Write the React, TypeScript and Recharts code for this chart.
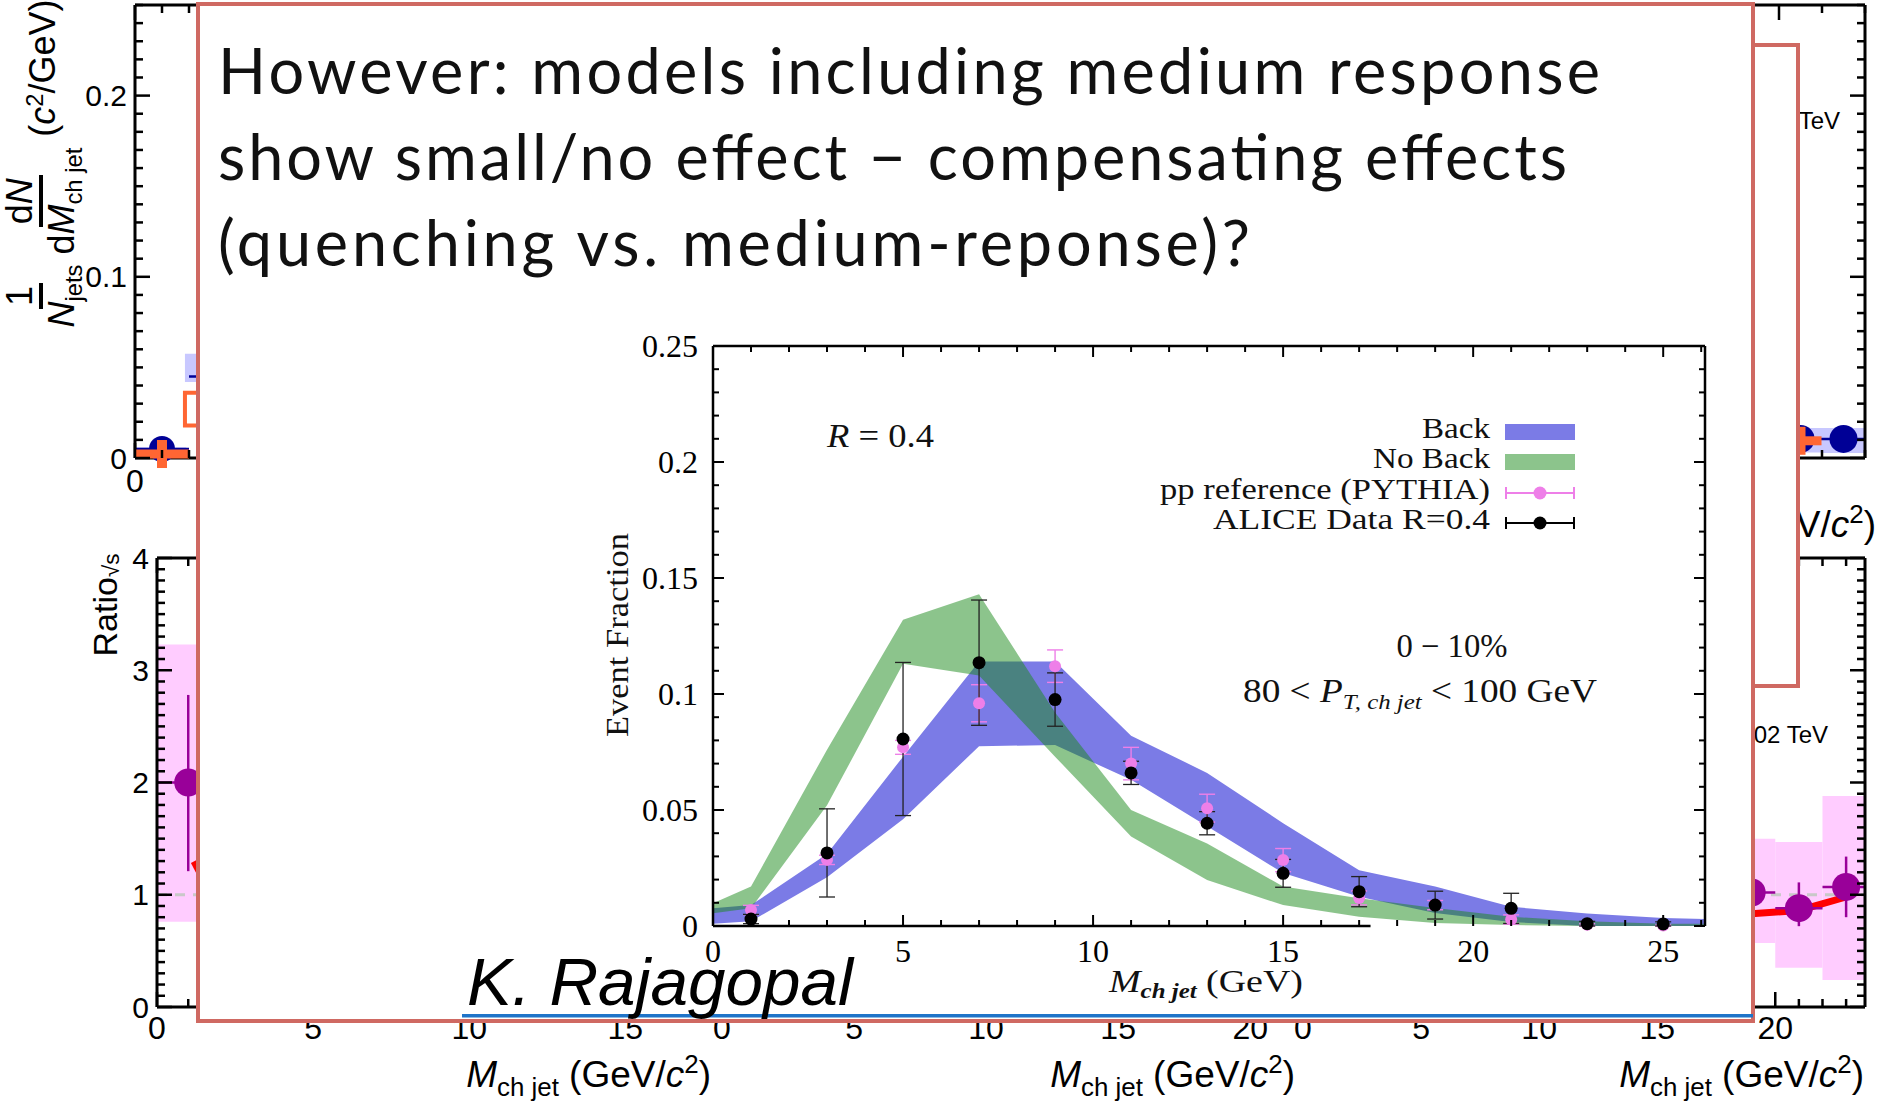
import React from 'react';
import {
  ComposedChart,
  XAxis,
  YAxis,
  Area,
  Scatter,
  Line,
  ErrorBar,
  ReferenceArea,
  ReferenceLine,
  Legend,
} from 'recharts';

/* ---------- inset: jet mass, 0-10 %, 80 < pT,ch jet < 100 GeV ---------- */
const bandX = [0, 1, 3, 5, 7, 9, 11, 13, 15, 17, 19, 21, 23, 25, 26.1];
const backLow = [0.001, 0.002, 0.021, 0.046, 0.0775, 0.078, 0.063, 0.043, 0.0228, 0.0126, 0.0056, 0.0017, 0, 0, 0];
const backHigh = [0.0076, 0.009, 0.031, 0.073, 0.114, 0.114, 0.082, 0.066, 0.0443, 0.024, 0.017, 0.0083, 0.0054, 0.0034, 0.003];
const noBackLow = [0.0055, 0.0076, 0.052, 0.113, 0.108, 0.073, 0.0386, 0.0198, 0.009, 0.004, 0.0013, 0.0004, 0, 0, 0];
const noBackHigh = [0.0098, 0.017, 0.076, 0.132, 0.143, 0.092, 0.05, 0.0356, 0.017, 0.012, 0.0078, 0.004, 0.002, 0.001, 0.001];

const massBins = [1, 3, 5, 7, 9, 11, 13, 15, 17, 19, 21, 23, 25];
const aliceY = [0.003, 0.0315, 0.0806, 0.1135, 0.0976, 0.066, 0.0443, 0.0227, 0.0148, 0.009, 0.0076, 0.001, 0.0009];
const aliceErr = [0.002, 0.019, 0.033, 0.027, 0.0115, 0.005, 0.005, 0.006, 0.0065, 0.006, 0.0065, 0.001, 0.0009];
const pythiaY = [0.0069, 0.0285, 0.077, 0.096, 0.112, 0.07, 0.0508, 0.0284, 0.0121, 0.009, 0.0028, 0.0005, 0.0002];
const pythiaErr = [0.002, 0.002, 0.003, 0.008, 0.007, 0.007, 0.006, 0.005, 0.003, 0.002, 0.002, 0.0005, 0.0002];

const insetXLabels = [0, 5, 10, 15, 20, 25];
const insetYLabels = [0, 0.05, 0.1, 0.15, 0.2, 0.25];
const legendNames = ['Back', 'No Back', 'pp reference (PYTHIA)', 'ALICE Data R=0.4'];

/* ---------- ALICE figure behind the callout (only its edges show) ---------- */
const spectrumYLabels = [0, 0.1, 0.2];
const ratioYLabels = [0, 1, 2, 3, 4];
const massXLabels = [0, 5, 10, 15, 20];

const tlBlue = [{ x: 1, y: 0.005, ex: 1 }, { x: 3, y: 0.045, ex: 1 }];
const tlOrange = [{ x: 1, y: 0.0022 }];
const tlBlueSys = [{ x1: 0, x2: 1.9, y1: 0.003, y2: 0.006 }, { x1: 1.85, x2: 4.15, y1: 0.042, y2: 0.0575 }];
const tlOrangeSys = [{ x1: 1.85, x2: 4.15, y1: 0.018, y2: 0.036 }];

const trBlue = [{ x: 21, y: 0.0105, ex: 1 }, { x: 23, y: 0.0105, ex: 1 }];
const trOrange = [{ x: 21, y: 0.0095 }];
const trBlueSys = [{ x1: 20, x2: 22, y1: 0.003, y2: 0.0166 }, { x1: 22, x2: 24, y1: 0.0028, y2: 0.0166 }];

const blRatio = [{ x: 1, y: 2.0, ey: [0.79, 0.78], ex: 1 }];
const blSys = [{ x1: 0, x2: 2, y1: 0.76, y2: 3.23 }];
const blModel = [{ x: 1.2, y: 1.3 }, { x: 1.5, y: 1.14 }];

const brRatio = [
  { x: 19, y: 1.02, ey: 0.2, ex: 1 },
  { x: 21, y: 0.88, ey: [0.16, 0.23], ex: 1 },
  { x: 23, y: 1.07, ey: 0.27, ex: [1, 0.8] },
];
const brSys = [
  { x1: 18, x2: 20, y1: 0.57, y2: 1.5 },
  { x1: 20, x2: 22, y1: 0.35, y2: 1.47 },
  { x1: 22, x2: 24, y1: 0.24, y2: 1.88 },
];
const brModel = [{ x: 19, y: 0.83 }, { x: 21, y: 0.86 }, { x: 23, y: 0.98 }];

/* ---------- helpers ---------- */
const SANS = "'Liberation Sans', Arial, sans-serif";
const SERIF = "'Liberation Serif', 'DejaVu Serif', serif";
const NAVY = '#000096';
const ORANGE = '#ff6633';
const PURPLE = '#990099';
const RED_BOX = '#cf6962';

const steps = (from: number, to: number, step: number) => {
  const n = Math.floor((to - from) / step + 1e-9);
  return Array.from({ length: n + 1 }, (_, i) => Math.round((from + i * step) * 1e6) / 1e6);
};
const within = (v: number, list: number[]) => list.some((m) => Math.abs(m - v) < 1e-6);

type Side = 'bottom' | 'top' | 'left' | 'right';
type LabelOpt = { family: string; size: number; gap: number; values: number[] };

// inward tick marks; majors are longer, labels only where listed
const axisTick =
  (side: Side, majors: number[], majorLen: number, minorLen: number, sw: number, label?: LabelOpt) =>
  (props: any) => {
    const { x, y, payload } = props;
    const v = payload.value as number;
    const len = within(v, majors) ? majorLen : minorLen;
    const dx = side === 'left' ? len : side === 'right' ? -len : 0;
    const dy = side === 'bottom' ? -len : side === 'top' ? len : 0;
    let text = null;
    if (label && within(v, label.values)) {
      text =
        side === 'bottom' ? (
          <text x={x} y={y + label.gap} textAnchor="middle" dominantBaseline="central" fontFamily={label.family} fontSize={label.size} fill="#000">
            {String(v)}
          </text>
        ) : (
          <text x={x - label.gap} y={y} textAnchor="end" dominantBaseline="central" fontFamily={label.family} fontSize={label.size} fill="#000">
            {String(v)}
          </text>
        );
    }
    return (
      <g>
        <line x1={x} y1={y} x2={x + dx} y2={y + dy} stroke="#000" strokeWidth={sw} />
        {text}
      </g>
    );
  };

const dot = (r: number, color: string) => (p: any) => <circle cx={p.cx} cy={p.cy} r={r} fill={color} />;
const cross = (half: number, color: string) => (p: any) => (
  <g>
    <rect x={p.cx - half} y={p.cy - 4.5} width={half * 2} height={9} fill={color} />
    <rect x={p.cx - 5} y={p.cy - 14} width={10} height={28} fill={color} />
  </g>
);

type Box = { left: number; top: number; width: number; height: number };
const PAD = 70;

// axes are 1px bands so recharts draws them; margins make up the difference
function Panel(props: {
  box: Box;
  xDomain: [number, number];
  yDomain: [number, number];
  xStep: number;
  yStep: number;
  yLabels: number[];
  xShown: number[];
  yShown: number[];
  xGap: number;
  children?: React.ReactNode;
}) {
  const { box, xDomain, yDomain, xStep, yStep, yLabels, xShown, yShown, xGap, children } = props;
  const xTicks = steps(xDomain[0], xDomain[1], xStep);
  const yTicks = steps(yDomain[0], yDomain[1], yStep);
  const line = { stroke: '#000', strokeWidth: 3 };
  const bare = !children;
  const m = PAD - 1;
  return (
    <div style={{ position: 'absolute', left: box.left - PAD, top: box.top - PAD }}>
      <ComposedChart width={box.width + 2 * PAD} height={box.height + 2 * PAD} margin={{ top: m, right: m, bottom: m, left: m }}>
        <XAxis dataKey="x" type="number" domain={xDomain} ticks={xTicks} interval={0} height={1} tickSize={0} tickMargin={0}
          axisLine={line} tickLine={false} allowDataOverflow={bare}
          tick={axisTick('bottom', massXLabels, 15, 8, 2.5, { family: SANS, size: 32, gap: xGap, values: xShown })} />
        <XAxis xAxisId="top" orientation="top" dataKey="x" type="number" domain={xDomain} ticks={xTicks} interval={0} height={1}
          tickSize={0} tickMargin={0} axisLine={line} tickLine={false} allowDataOverflow tick={axisTick('top', massXLabels, 15, 8, 2.5)} />
        <YAxis type="number" domain={yDomain} ticks={yTicks} interval={0} width={1} tickSize={0} tickMargin={0} axisLine={line}
          tickLine={false} allowDataOverflow={bare}
          tick={axisTick('left', yLabels, 15, 8, 2.5, { family: SANS, size: 30, gap: 8, values: yShown })} />
        <YAxis yAxisId="right" orientation="right" type="number" domain={yDomain} ticks={yTicks} interval={0} width={1} tickSize={0}
          tickMargin={0} axisLine={line} tickLine={false} allowDataOverflow tick={axisTick('right', yLabels, 15, 8, 2.5)} />
        {children}
      </ComposedChart>
    </div>
  );
}

const Sub = ({ children }: { children: React.ReactNode }) => (
  <span style={{ fontSize: '0.66em', position: 'relative', top: '0.32em' }}>{children}</span>
);
const Sup = ({ children }: { children: React.ReactNode }) => (
  <span style={{ fontSize: '0.66em', position: 'relative', top: '-0.5em' }}>{children}</span>
);
const Frac = ({ n, d }: { n: React.ReactNode; d: React.ReactNode }) => (
  <span style={{ display: 'inline-flex', flexDirection: 'column', alignItems: 'center', verticalAlign: 'middle', margin: '0 5px' }}>
    <span style={{ lineHeight: '34px', padding: '0 3px 2px', borderBottom: '4px solid #000' }}>{n}</span>
    <span style={{ lineHeight: '34px', paddingTop: 2 }}>{d}</span>
  </span>
);

function Rotated({ cx, cy, w, h, size, children }: { cx: number; cy: number; w: number; h: number; size: number; children: React.ReactNode }) {
  return (
    <div
      style={{
        position: 'absolute', left: cx - w / 2, top: cy - h / 2, width: w, height: h,
        display: 'flex', alignItems: 'center', justifyContent: 'center', transform: 'rotate(-90deg)',
        fontFamily: SANS, fontSize: size, color: '#000', whiteSpace: 'nowrap',
      }}
    >
      {children}
    </div>
  );
}

const MassTitle = ({ x, y, size }: { x: number; y: number; size: number }) => (
  <text x={x} y={y} textAnchor="end" fontFamily={SANS} fontSize={size} fill="#000">
    <tspan fontStyle="italic">M</tspan>
    <tspan fontSize={size * 0.7} dy={9}>ch jet</tspan>
    <tspan dy={-9}> (GeV/</tspan>
    <tspan fontStyle="italic">c</tspan>
    <tspan fontSize={size * 0.7} dy={-14}>2</tspan>
    <tspan dy={14}>)</tspan>
  </text>
);

function InsetLegend() {
  const base = [28, 58, 89, 119];
  const widths = [68, 117, 330, 277];
  return (
    <svg width={440} height={135} style={{ overflow: 'visible' }}>
      {legendNames.map((name, i) => (
        <text key={name} x={340} y={base[i]} textAnchor="end" fontFamily={SERIF} fontSize={30} fill="#111" textLength={widths[i]} lengthAdjust="spacingAndGlyphs">
          {name}
        </text>
      ))}
      <rect x={355} y={base[0] - 14} width={70} height={16} fill="#7b7be6" />
      <rect x={355} y={base[1] - 14} width={70} height={16} fill="rgb(25,137,25)" fillOpacity={0.5} />
      {[2, 3].map((i) => {
        const c = base[i] - 6;
        const col = i === 2 ? '#ee7fe8' : '#000';
        return (
          <g key={i} stroke={col} strokeWidth={2}>
            <line x1={355} y1={c} x2={425} y2={c} />
            <line x1={356} y1={c - 6} x2={356} y2={c + 6} />
            <line x1={424} y1={c - 6} x2={424} y2={c + 6} />
            <circle cx={390} cy={c} r={6.5} fill={col} stroke="none" />
          </g>
        );
      })}
    </svg>
  );
}

const bandRows = bandX.map((x, i) => ({ x, back: [backLow[i], backHigh[i]], noBack: [noBackLow[i], noBackHigh[i]] }));
const aliceRows = massBins.map((x, i) => ({ x, y: aliceY[i], err: aliceErr[i] }));
const pythiaRows = massBins.map((x, i) => ({ x, y: pythiaY[i], err: pythiaErr[i] }));

// plot frame of the inset sits at x 713..1705, y 346..926 on the page
const INSET = { left: 593, top: 296, width: 1152, height: 730, margin: { top: 49, right: 39, bottom: 99, left: 119 } };

function InsetChart() {
  const frame = { stroke: '#000', strokeWidth: 2.5 };
  const xTicks = steps(0, 26.1, 1);
  const yTicks = steps(0, 0.25, 0.01);
  return (
    <div style={{ position: 'absolute', left: INSET.left, top: INSET.top }}>
      <ComposedChart width={INSET.width} height={INSET.height} data={bandRows} margin={INSET.margin}>
        <XAxis dataKey="x" type="number" domain={[0, 26.1]} ticks={xTicks} interval={0} height={1} tickSize={0} tickMargin={0}
          axisLine={false} tickLine={false}
          tick={axisTick('bottom', insetXLabels, 11, 6, 2, { family: SERIF, size: 32, gap: 25, values: insetXLabels })} />
        <XAxis xAxisId="top" orientation="top" dataKey="x" type="number" domain={[0, 26.1]} ticks={xTicks} interval={0} height={1}
          tickSize={0} tickMargin={0} axisLine={frame} tickLine={false} allowDataOverflow tick={axisTick('top', insetXLabels, 11, 6, 2)} />
        <YAxis type="number" domain={[0, 0.25]} ticks={yTicks} interval={0} width={1} tickSize={0} tickMargin={0} axisLine={frame}
          tickLine={false} tick={axisTick('left', insetYLabels, 11, 6, 2, { family: SERIF, size: 32, gap: 15, values: insetYLabels })} />
        <YAxis yAxisId="right" orientation="right" type="number" domain={[0, 0.25]} ticks={yTicks} interval={0} width={1} tickSize={0}
          tickMargin={0} axisLine={frame} tickLine={false} allowDataOverflow tick={axisTick('right', insetYLabels, 11, 6, 2)} />
        <Area type="linear" dataKey="back" name="Back" fill="#7b7be6" fillOpacity={1} stroke="none" dot={false} activeDot={false} isAnimationActive={false} />
        <Area type="linear" dataKey="noBack" name="No Back" fill="rgb(25,137,25)" fillOpacity={0.5} stroke="none" dot={false} activeDot={false} isAnimationActive={false} />
        <ReferenceLine segment={[{ x: 0, y: 0 }, { x: 17.3, y: 0 }]} stroke="#000" strokeWidth={2.5} />
        <Scatter name="pp reference (PYTHIA)" data={pythiaRows} dataKey="y" fill="#ee7fe8" shape={dot(6, '#ee7fe8')} isAnimationActive={false}>
          <ErrorBar dataKey="err" direction="y" width={8} stroke="#ee7fe8" strokeWidth={1.4} />
        </Scatter>
        <Scatter name="ALICE Data R=0.4" data={aliceRows} dataKey="y" fill="#000" shape={dot(6.5, '#000')} isAnimationActive={false}>
          <ErrorBar dataKey="err" direction="y" width={8} stroke="#222" strokeWidth={1.3} />
        </Scatter>
        <Legend layout="vertical" align="center" verticalAlign="middle" content={() => <InsetLegend />}
          wrapperStyle={{ left: 557, top: 114, width: 440, height: 135 }} />
      </ComposedChart>
    </div>
  );
}

export default function App() {
  return (
    <div style={{ position: 'absolute', left: 0, top: 0, width: 1880, height: 1101, background: '#fff', overflow: 'hidden' }}>
      {/* spectra, upper row */}
      <Panel box={{ left: 135, top: 5, width: 540, height: 453 }} xDomain={[0, 20]} yDomain={[0, 0.25]} xStep={1} yStep={0.01}
        yLabels={spectrumYLabels} xShown={[0]} yShown={spectrumYLabels} xGap={23}>
        {tlBlueSys.map((b, i) => (
          <ReferenceArea key={i} x1={b.x1} x2={b.x2} y1={b.y1} y2={b.y2} fill="#c8c8ff" fillOpacity={1} stroke="none" ifOverflow="hidden" />
        ))}
        {tlOrangeSys.map((b, i) => (
          <ReferenceArea key={'o' + i} x1={b.x1} x2={b.x2} y1={b.y1} y2={b.y2} fill="none" stroke={ORANGE} strokeWidth={4} ifOverflow="hidden" />
        ))}
        <Scatter data={tlBlue} dataKey="y" fill={NAVY} shape={dot(13, NAVY)} isAnimationActive={false}>
          <ErrorBar dataKey="ex" direction="x" width={0} stroke={NAVY} strokeWidth={2.5} />
        </Scatter>
        <Scatter data={tlOrange} dataKey="y" fill={ORANGE} shape={cross(27, ORANGE)} isAnimationActive={false} />
      </Panel>
      <Panel box={{ left: 1349, top: 5, width: 516, height: 453 }} xDomain={[0, 24]} yDomain={[0, 0.25]} xStep={2} yStep={0.01}
        yLabels={spectrumYLabels} xShown={[]} yShown={[]} xGap={23}>
        {trBlueSys.map((b, i) => (
          <ReferenceArea key={i} x1={b.x1} x2={b.x2} y1={b.y1} y2={b.y2} fill="#c8c8ff" fillOpacity={1} stroke="none" ifOverflow="hidden" />
        ))}
        <Scatter data={trBlue} dataKey="y" fill={NAVY} shape={dot(14, NAVY)} isAnimationActive={false}>
          <ErrorBar dataKey="ex" direction="x" width={0} stroke={NAVY} strokeWidth={2.5} />
        </Scatter>
        <Scatter data={trOrange} dataKey="y" fill={ORANGE} shape={cross(21, ORANGE)} isAnimationActive={false} />
      </Panel>

      {/* ratios, lower row */}
      <Panel box={{ left: 157, top: 558, width: 562, height: 449 }} xDomain={[0, 18]} yDomain={[0, 4]} xStep={1} yStep={0.1}
        yLabels={ratioYLabels} xShown={massXLabels} yShown={ratioYLabels} xGap={21}>
        {blSys.map((b, i) => (
          <ReferenceArea key={i} x1={b.x1} x2={b.x2} y1={b.y1} y2={b.y2} fill="#ffccff" fillOpacity={1} stroke="none" ifOverflow="hidden" />
        ))}
        <ReferenceLine y={1} stroke="#c8c8c8" strokeWidth={3} strokeDasharray="10 8" />
        <Line data={blModel} dataKey="y" type="linear" stroke="#ff0000" strokeWidth={8} dot={false} activeDot={false} isAnimationActive={false} />
        <Scatter data={blRatio} dataKey="y" fill={PURPLE} shape={dot(14, PURPLE)} isAnimationActive={false}>
          <ErrorBar dataKey="ey" direction="y" width={0} stroke={PURPLE} strokeWidth={2.5} />
          <ErrorBar dataKey="ex" direction="x" width={0} stroke={PURPLE} strokeWidth={2.5} />
        </Scatter>
      </Panel>
      <Panel box={{ left: 722, top: 558, width: 581, height: 449 }} xDomain={[0, 22]} yDomain={[0, 4]} xStep={1} yStep={0.1}
        yLabels={ratioYLabels} xShown={massXLabels} yShown={[]} xGap={21} />
      <Panel box={{ left: 1303, top: 558, width: 562, height: 449 }} xDomain={[0, 23.8]} yDomain={[0, 4]} xStep={1} yStep={0.1}
        yLabels={ratioYLabels} xShown={massXLabels} yShown={[]} xGap={21}>
        {brSys.map((b, i) => (
          <ReferenceArea key={i} x1={b.x1} x2={b.x2} y1={b.y1} y2={b.y2} fill="#ffccff" fillOpacity={1} stroke="none" ifOverflow="hidden" />
        ))}
        <ReferenceLine y={1} stroke="#c8c8c8" strokeWidth={3} strokeDasharray="10 8" />
        <Line data={brModel} dataKey="y" type="linear" stroke="#ff0000" strokeWidth={7} dot={false} activeDot={false} isAnimationActive={false} />
        <Scatter data={brRatio} dataKey="y" fill={PURPLE} shape={dot(14, PURPLE)} isAnimationActive={false}>
          <ErrorBar dataKey="ey" direction="y" width={0} stroke={PURPLE} strokeWidth={2.5} />
          <ErrorBar dataKey="ex" direction="x" width={0} stroke={PURPLE} strokeWidth={2.5} />
        </Scatter>
      </Panel>

      <svg width={1880} height={1101} style={{ position: 'absolute', left: 0, top: 0 }}>
        <MassTitle x={1876} y={537} size={37} />
        <MassTitle x={711} y={1087} size={37} />
        <MassTitle x={1295} y={1087} size={37} />
        <MassTitle x={1864} y={1087} size={37} />
        <text x={1840} y={129} textAnchor="end" fontFamily={SANS} fontSize={24} fill="#000">√s = 13 TeV</text>
        <text x={1828} y={743} textAnchor="end" fontFamily={SANS} fontSize={24} fill="#000">√s = 5.02 TeV</text>
      </svg>
      <Rotated cx={43} cy={166} w={370} h={84} size={36}>
        <Frac n="1" d={<><i>N</i><Sub>jets</Sub></>} />
        <Frac n={<>d<i>N</i></>} d={<>d<i>M</i><Sub>ch jet</Sub></>} />
        <span style={{ marginLeft: 6 }}>(<i>c</i><Sup>2</Sup>/GeV)</span>
      </Rotated>
      <Rotated cx={105} cy={605} w={130} h={50} size={34}>
        Ratio<Sub>√s</Sub>
      </Rotated>

      {/* callout boxes */}
      <div style={{ position: 'absolute', left: 1500, top: 43, width: 300, height: 645, boxSizing: 'border-box', border: `4.5px solid ${RED_BOX}`, background: '#fff' }} />
      <div style={{ position: 'absolute', left: 196, top: 2, width: 1559, height: 1021, boxSizing: 'border-box', border: `4.5px solid ${RED_BOX}`, background: '#fff' }} />

      <svg width={1880} height={1101} style={{ position: 'absolute', left: 0, top: 0 }}>
        <g fontFamily="Lato, 'Open Sans', sans-serif" fontSize={63} fill="#111">
          <text x={218} y={94} textLength={1382} lengthAdjust="spacing">However: models including medium response</text>
          <text x={218} y={180} textLength={1349} lengthAdjust="spacing">show small/no effect − compensating effects</text>
          <text x={218} y={266} textLength={1032} lengthAdjust="spacing">(quenching vs. medium-reponse)?</text>
        </g>
      </svg>

      <InsetChart />

      <svg width={1880} height={1101} style={{ position: 'absolute', left: 0, top: 0, pointerEvents: 'none' }}>
        <g fontFamily={SERIF} fill="#111">
          <text x={827} y={447} fontSize={33} textLength={107} lengthAdjust="spacingAndGlyphs">
            <tspan fontStyle="italic">R</tspan> = 0.4
          </text>
          <text x={1452} y={657} fontSize={33} textAnchor="middle" textLength={111} lengthAdjust="spacingAndGlyphs">0 − 10%</text>
          <text x={1243} y={702} fontSize={33} textLength={354} lengthAdjust="spacingAndGlyphs">
            80 &lt; <tspan fontStyle="italic">P</tspan>
            <tspan fontSize={22} fontStyle="italic" dy={7}>T, ch jet</tspan>
            <tspan dy={-7}> &lt; 100 GeV</tspan>
          </text>
          <text transform="translate(628,635) rotate(-90)" fontSize={32} textAnchor="middle" textLength={204} lengthAdjust="spacingAndGlyphs">
            Event Fraction
          </text>
          <text x={1109} y={992} fontSize={32} textLength={194} lengthAdjust="spacingAndGlyphs">
            <tspan fontStyle="italic">M</tspan>
            <tspan fontSize={21} fontStyle="italic" fontWeight="bold" dy={6}>ch jet</tspan>
            <tspan dy={-6}> (GeV)</tspan>
          </text>
        </g>
        <rect x={462} y={1014} width={1291} height={3.5} fill="#1f74c8" />
        <text x={467} y={1005} fontFamily={SANS} fontStyle="italic" fontSize={67} fill="#000" textLength={386} lengthAdjust="spacingAndGlyphs">
          K. Rajagopal
        </text>
      </svg>
    </div>
  );
}
